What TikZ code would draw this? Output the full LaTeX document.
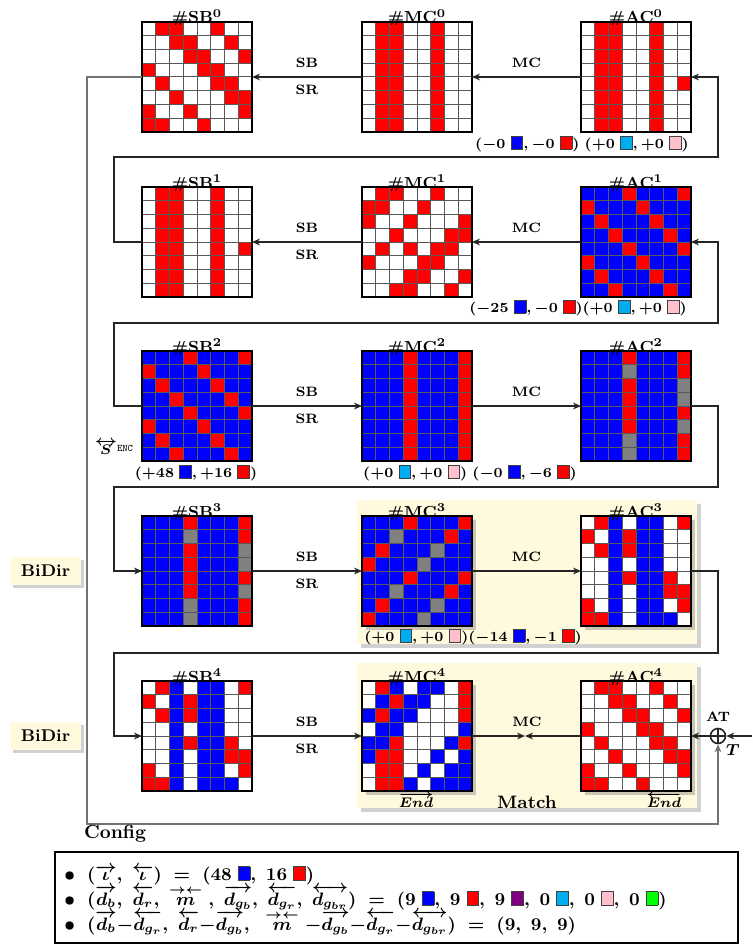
\documentclass[tikz,border=0pt]{standalone}
\usepackage{amsmath}
\usetikzlibrary{arrows.meta,shadows}
\definecolor{cW}{rgb}{1,1,1}
\definecolor{cR}{rgb}{1,0,0}
\definecolor{cB}{rgb}{0,0,1}
\definecolor{cG}{rgb}{0.5,0.5,0.5}
\definecolor{cream}{RGB}{255,250,222}
\definecolor{ccyan}{RGB}{0,174,239}
\definecolor{cpink}{RGB}{255,192,203}
\definecolor{cpurple}{RGB}{128,0,128}
\definecolor{cgreen}{RGB}{0,255,0}
\setlength{\fboxsep}{0pt}\setlength{\fboxrule}{0.4pt}
\newcommand\sq[1]{\fcolorbox{black!75}{#1}{\rule{0pt}{6pt}\rule{5.5pt}{0pt}}}
\newcommand\lsq[1]{\fcolorbox{black!75}{#1}{\rule{0pt}{6.5pt}\rule{5.5pt}{0pt}}}

% grid data
\def\gA{{W,R,R,W,W,R,W,W},{W,W,R,R,W,W,R,W},{W,W,W,R,R,W,W,R},{R,W,W,W,R,R,W,W},{W,R,W,W,W,R,R,W},{W,W,R,W,W,W,R,R},{R,W,W,R,W,W,W,R},{R,R,W,W,R,W,W,W}}
\def\gMCz{{W,R,R,W,W,R,W,W},{W,R,R,W,W,R,W,W},{W,R,R,W,W,R,W,W},{W,R,R,W,W,R,W,W},{W,R,R,W,W,R,W,W},{W,R,R,W,W,R,W,W},{W,R,R,W,W,R,W,W},{W,R,R,W,W,R,W,W}}
\def\gACz{{W,R,R,W,W,R,W,W},{W,R,R,W,W,R,W,W},{W,R,R,W,W,R,W,W},{W,R,R,W,W,R,W,W},{W,R,R,W,W,R,W,R},{W,R,R,W,W,R,W,W},{W,R,R,W,W,R,W,W},{W,R,R,W,W,R,W,W}}
\def\gMCa{{W,R,R,W,W,R,W,W},{R,R,W,W,R,W,W,W},{R,W,W,R,W,W,W,R},{W,W,R,W,W,W,R,R},{W,R,W,R,W,R,R,W},{R,W,W,W,R,R,W,W},{W,W,W,R,R,W,W,R},{W,W,R,R,W,W,R,W}}
\def\gACa{{B,B,B,R,B,B,B,R},{R,B,B,B,R,B,B,B},{B,R,B,B,B,R,B,B},{B,B,R,B,B,B,R,B},{B,B,B,R,B,B,B,R},{R,B,B,B,R,B,B,B},{B,R,B,B,B,R,B,B},{B,B,R,B,B,B,R,B}}
\def\gMCb{{B,B,B,R,B,B,B,R},{B,B,B,R,B,B,B,R},{B,B,B,R,B,B,B,R},{B,B,B,R,B,B,B,R},{B,B,B,R,B,B,B,R},{B,B,B,R,B,B,B,R},{B,B,B,R,B,B,B,R},{B,B,B,R,B,B,B,R}}
\def\gACb{{B,B,B,R,B,B,B,R},{B,B,B,G,B,B,B,R},{B,B,B,R,B,B,B,G},{B,B,B,R,B,B,B,G},{B,B,B,R,B,B,B,R},{B,B,B,R,B,B,B,G},{B,B,B,G,B,B,B,R},{B,B,B,G,B,B,B,R}}
\def\gMCc{{B,B,B,R,B,B,B,R},{B,B,G,B,B,B,R,B},{B,R,B,B,B,G,B,B},{R,B,B,B,G,B,B,B},{B,B,B,R,B,B,B,R},{B,B,G,B,B,B,R,B},{B,R,B,B,B,G,B,B},{R,B,B,B,G,B,B,B}}
\def\gACc{{W,R,B,W,B,B,W,R},{R,W,B,R,B,B,W,W},{W,R,B,R,B,B,W,W},{W,W,B,W,B,B,W,W},{W,W,B,R,B,B,R,W},{W,W,B,W,B,B,R,R},{R,W,B,W,B,B,W,R},{R,R,B,W,B,B,B,W}}
\def\gMCd{{W,R,B,W,B,B,W,R},{W,B,R,B,B,W,W,R},{B,R,B,B,W,W,W,R},{W,B,B,W,W,W,W,B},{B,B,R,W,W,W,B,R},{B,R,R,W,W,B,W,B},{W,R,R,W,B,W,B,B},{W,R,R,B,W,B,B,B}}

\newcommand\drawgrid[6]{%
  \node[gridbase,#5] (#1) at (#2,#3) {};
  \foreach \rw [count=\ii from 0] in #4 {%
    \foreach \cl [count=\jj from 0] in \rw {%
      \fill[c\cl] (#2-55+\jj*13.75, #3-55+\ii*13.75) rectangle ++(13.75,13.75);
    }%
  }%
  \foreach \kk in {1,...,7} {%
    \draw[black!65, line width=0.5pt] (#2-55+\kk*13.75, #3-55) -- ++(0,110);
    \draw[black!65, line width=0.5pt] (#2-55, #3-55+\kk*13.75) -- ++(110,0);
  }%
  \draw[line width=1pt] (#1.north west) rectangle (#1.south east);
  \node[gtitle] at (#2,#3-54) {#6};
}

\tikzset{
  gridbase/.style={rectangle, minimum size=55pt, inner sep=0pt, outer sep=0pt, fill=white},
  gshadow/.style={drop shadow={opacity=0.35, shadow xshift=2pt, shadow yshift=-2pt, fill=black!60}},
  gtitle/.style={anchor=base, inner sep=0pt, font=\fontsize{8}{8.5}\selectfont\bfseries\boldmath},
  lbl/.style={inner sep=0pt, font=\fontsize{6.8}{7}\selectfont\bfseries},
  cnt/.style={inner sep=0pt, font=\fontsize{6.7}{7}\selectfont\boldmath},
  conn/.style={draw=black!85, line width=0.6pt},
  arr/.style={conn, -{Stealth[length=4pt, width=3.4pt, inset=1.3pt]}},
  graycon/.style={draw=black!55, line width=0.6pt},
  matchbox/.style={fill=cream, draw=none, drop shadow={opacity=0.3, shadow xshift=2pt, shadow yshift=-2pt, fill=black!60}},
  bidir/.style={fill=cream, draw=none, minimum width=35.5pt, minimum height=14pt, inner sep=0pt,
     font=\fontsize{8.5}{9}\selectfont\bfseries, drop shadow={opacity=0.3, shadow xshift=1.5pt, shadow yshift=-1.5pt, fill=black!60}},
  legendbox/.style={draw, line width=1pt, minimum width=341.5pt, minimum height=45.5pt, inner sep=0pt},
  legtext/.style={anchor=base west, inner sep=0pt, font=\fontsize{8.8}{9.5}\selectfont\boldmath},
}

\begin{document}
\begin{tikzpicture}[x=0.5pt, y=-0.5pt]
\useasboundingbox (0,0) rectangle (752,947);

% match regions
\node[matchbox, minimum width=170pt, minimum height=72pt] (match3) at (527,572) {};
\node[matchbox, minimum width=170pt, minimum height=72.5pt] (match4) at (527,735.5) {};

% BiDir boxes
\node[bidir] (bd3) at (45.5,571) {BiDir};
\node[bidir] (bd4) at (45.5,736) {BiDir};

% grids
\drawgrid{sb0}{197}{77}{\gA}{}{\#SB$^{\mathbf{0}}$}
\drawgrid{mc0}{417}{77}{\gMCz}{}{\#MC$^{\mathbf{0}}$}
\drawgrid{ac0}{636}{77}{\gACz}{}{\#AC$^{\mathbf{0}}$}
\drawgrid{sb1}{197}{242}{\gACz}{}{\#SB$^{\mathbf{1}}$}
\drawgrid{mc1}{417}{242}{\gMCa}{}{\#MC$^{\mathbf{1}}$}
\drawgrid{ac1}{636}{242}{\gACa}{}{\#AC$^{\mathbf{1}}$}
\drawgrid{sb2}{197}{406}{\gACa}{}{\#SB$^{\mathbf{2}}$}
\drawgrid{mc2}{417}{406}{\gMCb}{}{\#MC$^{\mathbf{2}}$}
\drawgrid{ac2}{636}{406}{\gACb}{}{\#AC$^{\mathbf{2}}$}
\drawgrid{sb3}{197}{571}{\gACb}{}{\#SB$^{\mathbf{3}}$}
\drawgrid{mc3}{417}{571}{\gMCc}{gshadow}{\#MC$^{\mathbf{3}}$}
\drawgrid{ac3}{636}{571}{\gACc}{gshadow}{\#AC$^{\mathbf{3}}$}
\drawgrid{sb4}{197}{736}{\gACc}{}{\#SB$^{\mathbf{4}}$}
\drawgrid{mc4}{417}{736}{\gMCd}{gshadow}{\#MC$^{\mathbf{4}}$}
\drawgrid{ac4}{636}{736}{\gA}{gshadow}{\#AC$^{\mathbf{4}}$}

% XOR
\node[circle, draw=black!85, line width=0.8pt, minimum size=7.5pt, inner sep=0pt] (xor) at (718,736) {};
\draw[black!85, line width=0.8pt] (xor.north) -- (xor.south) (xor.west) -- (xor.east);
\coordinate (tin) at (752,736);
\coordinate (meet) at (525,736);

% row 0
\draw[arr] (mc0.west) -- node[lbl, yshift=7pt]{SB} node[lbl, yshift=-6.5pt]{SR} (sb0.east);
\draw[arr] (ac0.west) -- node[lbl, yshift=7pt]{MC} (mc0.east);
% row 1
\draw[arr] (mc1.west) -- node[lbl, yshift=7pt]{SB} node[lbl, yshift=-6.5pt]{SR} (sb1.east);
\draw[arr] (ac1.west) -- node[lbl, yshift=7pt]{MC} (mc1.east);
% row 2
\draw[arr] (sb2.east) -- node[lbl, yshift=7pt]{SB} node[lbl, yshift=-6.5pt]{SR} (mc2.west);
\draw[arr] (mc2.east) -- node[lbl, yshift=7pt]{MC} (ac2.west);
% row 3
\draw[arr] (sb3.east) -- node[lbl, yshift=7pt]{SB} node[lbl, yshift=-6.5pt]{SR} (mc3.west);
\draw[arr] (mc3.east) -- node[lbl, yshift=7pt]{MC} (ac3.west);
% row 4
\draw[arr] (sb4.east) -- node[lbl, yshift=7pt]{SB} node[lbl, yshift=-6.5pt]{SR} (mc4.west);
\draw[arr] (mc4.east) -- (meet);
\draw[arr] (ac4.west) -- (meet);
\node[lbl] (mclbl4) at (527,722) {MC};
\draw[arr] (xor.west) -- (ac4.east);
\draw[arr] (tin) -- (xor.east);
\node[lbl] (at) at (718,717) {AT};
\node[inner sep=0pt, font=\fontsize{8.5}{9}\selectfont\boldmath] (tlab) at (733,750) {$T$};

% loops
\draw[arr] (sb1.west) -- (114,242) -- (114,157) -- (718,157) -- (718,77) -- (ac0.east);
\draw[arr] (sb2.west) -- (114,406) -- (114,323) -- (718,323) -- (718,242) -- (ac1.east);
\draw[arr] (ac2.east) -- (718,406) -- (718,487) -- (114,487) -- (114,571) -- (sb3.west);
\draw[arr] (ac3.east) -- (718,571) -- (718,653) -- (114,653) -- (114,736) -- (sb4.west);
\draw[graycon, -{Stealth[length=4pt, width=3.4pt, inset=1.3pt]}] (sb0.west) -- (87,77) -- (87,824) -- (718,824) -- (xor.south);

% counts
\node[cnt] (c0) at (582,144) {$(-0$ \sq{cB}$,-0$ \sq{cR}$)$ $(+0$ \sq{ccyan}$,+0$ \sq{cpink}$)$};
\node[cnt] (c1) at (578,308) {$(-25$ \sq{cB}$,-0$ \sq{cR}$)(+0$ \sq{ccyan}$,+0$ \sq{cpink}$)$};
\node[cnt] (c2a) at (196,473) {$(+48$ \sq{cB}$,+16$ \sq{cR}$)$};
\node[cnt] (c2b) at (470,473) {$(+0$ \sq{ccyan}$,+0$ \sq{cpink}$)$ $(-0$ \sq{cB}$,-6$ \sq{cR}$)$};
\node[cnt] (c3) at (473,637) {$(+0$ \sq{ccyan}$,+0$ \sq{cpink}$)(-14$ \sq{cB}$,-1$ \sq{cR}$)$};
\node[inner sep=0pt, font=\fontsize{7}{8}\selectfont\boldmath] (senc) at (114,447) {$\overleftrightarrow{S}$\raisebox{1.5pt}{\fontsize{5}{5}\selectfont\ttfamily ENC}};

% end labels and match
\node[inner sep=0pt, font=\fontsize{7}{8}\selectfont\boldmath] (endf) at (416,800) {$\overrightarrow{End}$};
\node[inner sep=0pt, font=\fontsize{7}{8}\selectfont\boldmath] (endb) at (664,800) {$\overleftarrow{End}$};
\node[inner sep=0pt, font=\fontsize{9}{10}\selectfont\bfseries] (mtxt) at (527,802) {Match};
\node[inner sep=0pt, font=\fontsize{9.5}{10}\selectfont\bfseries] (cfg) at (115,834) {Config};

% legend
\node[legendbox] (leg) at (396.5,897.5) {};
\node[legtext] (l1) at (64,880) {$\bullet$\ \ $(\overrightarrow{\iota},\ \overleftarrow{\iota})\ =\ (48$ \lsq{cB}$,\ 16$ \lsq{cR}$)$};
\node[legtext] (l2) at (64,905) {$\bullet$\ \ $(\overrightarrow{d_b},\ \overleftarrow{d_r},\ \overset{\rightarrow\leftarrow}{m}\ ,\ \overrightarrow{d_{g_b}},\ \overleftarrow{d_{g_r}},\ \overleftrightarrow{d_{g_{br}}})\ =\ (9$ \lsq{cB}$,\ 9$ \lsq{cR}$,\ 9$ \lsq{cpurple}$,\ 0$ \lsq{ccyan}$,\ 0$ \lsq{cpink}$,\ 0$ \lsq{cgreen}$)$};
\node[legtext] (l3) at (64,930) {$\bullet$\ \ $(\overrightarrow{d_b}{-}\overleftarrow{d_{g_r}},\ \overleftarrow{d_r}{-}\overrightarrow{d_{g_b}},\ \ \overset{\rightarrow\leftarrow}{m}\ {-}\overrightarrow{d_{g_b}}{-}\overleftarrow{d_{g_r}}{-}\overleftrightarrow{d_{g_{br}}})\ =\ (9,\ 9,\ 9)$};
\end{tikzpicture}
\end{document}
